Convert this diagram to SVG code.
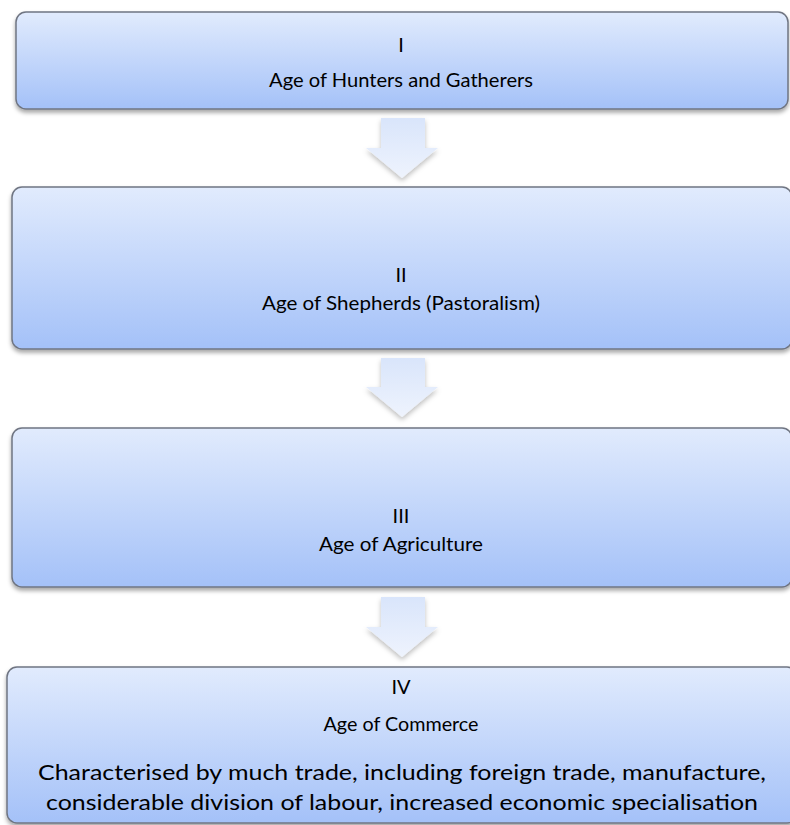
<svg xmlns="http://www.w3.org/2000/svg" width="790" height="825" viewBox="0 0 790 825">
<defs>
<linearGradient id="boxGrad" x1="0" y1="0" x2="0" y2="1">
<stop offset="0" stop-color="#e1ebfd"/>
<stop offset="1" stop-color="#a4c1f8"/>
</linearGradient>
<linearGradient id="arrGrad" x1="0" y1="0" x2="0" y2="1">
<stop offset="0" stop-color="#d9e5fb"/>
<stop offset="1" stop-color="#eef3fd"/>
</linearGradient>
<filter id="shadow" x="-5%" y="-10%" width="110%" height="130%">
<feDropShadow dx="0" dy="3" stdDeviation="2.2" flood-color="#000" flood-opacity="0.35"/>
</filter>
<filter id="ashadow" x="-30%" y="-20%" width="160%" height="160%">
<feDropShadow dx="0" dy="3" stdDeviation="2.5" flood-color="#000" flood-opacity="0.25"/>
</filter>
</defs>
<style>
.box{fill:url(#boxGrad);stroke:#6f7582;stroke-width:1.5;filter:url(#shadow)}
.arrow{fill:url(#arrGrad);filter:url(#ashadow)}
text{font-family:Lato,"Liberation Sans",sans-serif;font-size:20px;fill:#000;text-anchor:middle}
text.long{font-size:22px}
</style>
<rect width="790" height="825" fill="#fff"/>
<g id="connectors">
<path class="arrow" d="M381,118 H425 V148 H438 L402,178 L366,148 H381 Z"/>
<path class="arrow" d="M381,358 H425 V387 H438 L402,417 L366,387 H381 Z"/>
<path class="arrow" d="M381,597 H425 V627 H438 L402,657 L366,627 H381 Z"/>
</g>
<g id="node1">
<rect class="box" x="16" y="12" width="772" height="97" rx="10"/>
<text x="401" y="52">I</text>
<text x="401" y="87" textLength="264" lengthAdjust="spacingAndGlyphs">Age of Hunters and Gatherers</text>
</g>
<g id="node2">
<rect class="box" x="12" y="187" width="780" height="162" rx="10"/>
<text x="401" y="282">II</text>
<text x="401" y="310" textLength="278" lengthAdjust="spacingAndGlyphs">Age of Shepherds (Pastoralism)</text>
</g>
<g id="node3">
<rect class="box" x="12" y="428" width="780" height="159" rx="10"/>
<text x="401" y="523">III</text>
<text x="401" y="551" textLength="164" lengthAdjust="spacingAndGlyphs">Age of Agriculture</text>
</g>
<g id="node4">
<rect class="box" x="7" y="667" width="790" height="156" rx="10"/>
<text x="401" y="694">IV</text>
<text x="401" y="731" textLength="155" lengthAdjust="spacingAndGlyphs">Age of Commerce</text>
<text class="long" x="402" y="780" textLength="728" lengthAdjust="spacingAndGlyphs">Characterised by much trade, including foreign trade, manufacture,</text>
<text class="long" x="402" y="810" textLength="712" lengthAdjust="spacingAndGlyphs">considerable division of labour, increased economic specialisation</text>
</g>
</svg>
